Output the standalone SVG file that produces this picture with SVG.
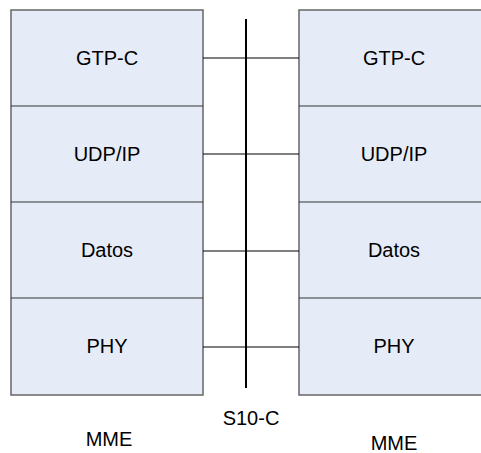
<svg xmlns="http://www.w3.org/2000/svg" width="481" height="453" viewBox="0 0 481 453">
<style>
.box{fill:#e6ecf7;stroke:#666;stroke-width:1.5}
.div{stroke:#333;stroke-width:1.2}
.lbl{font-family:"Liberation Sans",Arial,sans-serif;font-size:20px;fill:#000;text-anchor:middle}
.conn{stroke:#000;stroke-width:1}
</style>
<rect x="0" y="0" width="481" height="453" fill="#fff"/>
<g id="mme-left">
<rect class="box" x="11" y="10" width="192" height="385"/>
<line class="div" x1="11" y1="106" x2="203" y2="106"/>
<line class="div" x1="11" y1="202" x2="203" y2="202"/>
<line class="div" x1="11" y1="298" x2="203" y2="298"/>
<text class="lbl" x="107" y="65">GTP-C</text>
<text class="lbl" x="107" y="161">UDP/IP</text>
<text class="lbl" x="107" y="257">Datos</text>
<text class="lbl" x="107" y="353">PHY</text>
<text class="lbl" x="109" y="446">MME</text>
</g>
<g id="mme-right">
<rect class="box" x="299" y="10" width="192" height="385"/>
<line class="div" x1="299" y1="106" x2="491" y2="106"/>
<line class="div" x1="299" y1="202" x2="491" y2="202"/>
<line class="div" x1="299" y1="298" x2="491" y2="298"/>
<text class="lbl" x="394" y="65">GTP-C</text>
<text class="lbl" x="394" y="161">UDP/IP</text>
<text class="lbl" x="394" y="257">Datos</text>
<text class="lbl" x="394" y="353">PHY</text>
<text class="lbl" x="394" y="450">MME</text>
</g>
<g id="s10c">
<line x1="246" y1="19" x2="246" y2="388" stroke="#000" stroke-width="2"/>
<text class="lbl" x="251" y="425">S10-C</text>
</g>
<g id="connectors">
<line class="conn" x1="203" y1="58" x2="299" y2="58"/>
<line class="conn" x1="203" y1="154" x2="299" y2="154"/>
<line class="conn" x1="203" y1="251" x2="299" y2="251"/>
<line class="conn" x1="203" y1="347" x2="299" y2="347"/>
</g>
</svg>
